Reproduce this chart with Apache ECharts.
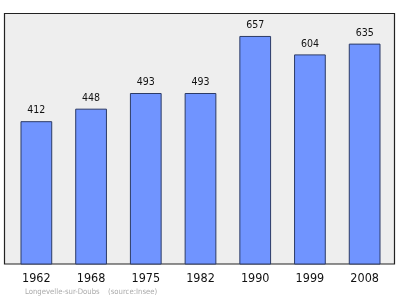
<!DOCTYPE html>
<html><head><meta charset="utf-8">
<script src="https://cdn.jsdelivr.net/npm/echarts@6/dist/echarts.min.js"></script>
<style>html,body{margin:0;padding:0;background:#fff}#c{width:400px;height:299px}</style>
</head><body><div id="c"></div>
<script>
const years = ['1962','1968','1975','1982','1990','1999','2008'];
const population = [412,448,493,493,657,604,635];
const footerPlace = 'Longevelle-sur-Doubs';
const footerSource = '(source:Insee)';

const FONT = '"DejaVu Sans Condensed", "DejaVu Sans", sans-serif';
const chart = echarts.init(document.getElementById('c'), null, {renderer:'canvas'});
chart.setOption({
  animation:false,
  backgroundColor:'#ffffff',
  graphic:[
    {type:'rect', z:-10, shape:{x:4.5,y:13.5,width:390,height:250.5},
     style:{fill:'#eeeeee', stroke:'#222222', lineWidth:1.2}},
    {type:'text', left:25, top:288, style:{text:footerPlace, fill:'#aaaaaa', font:'7.7px ' + FONT}},
    {type:'text', left:108, top:288, style:{text:footerSource, fill:'#aaaaaa', font:'7.7px ' + FONT}}
  ],
  grid:{left:9, width:383, top:13, height:251.5},
  xAxis:{type:'category', data:years, boundaryGap:true,
    axisLine:{show:false}, axisTick:{show:false},
    axisLabel:{margin:8, color:'#111', fontSize:12.5, fontFamily:FONT}},
  yAxis:{type:'value', min:0, max:723, show:false, splitLine:{show:false}},
  series:[{type:'bar', data:population, barWidth:'58%',
    itemStyle:{color:'#7094ff', borderColor:'#2c3b66', borderWidth:1},
    label:{show:true, position:'top', distance:5, color:'#111', fontSize:10.5, fontFamily:FONT}}]
});
</script></body></html>
